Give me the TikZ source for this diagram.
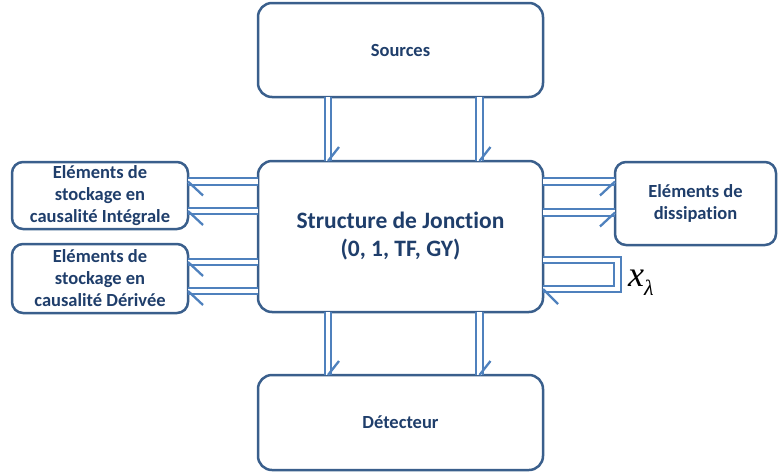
\documentclass[tikz,border=0pt]{standalone}
\usepackage{fontspec}
\setmainfont{Carlito}[Ligatures={NoCommon}]
\newfontfamily\tms{Liberation Serif}
\usetikzlibrary{calc}
\definecolor{boxc}{HTML}{3A5F8C}
\definecolor{arrc}{HTML}{4F81BD}
\definecolor{txtc}{HTML}{1F3E6B}
\begin{document}
\begin{tikzpicture}[x=1pt,y=-1pt,
 box/.style={draw=boxc, line width=2.5pt, rounded corners=14pt, fill=white, inner sep=0pt, outer sep=0pt, align=center, text=txtc, font=\fontsize{18.5}{22}\selectfont\bfseries},
 sbox/.style={box, rounded corners=11pt},
 bond/.style={draw=arrc, line width=2pt, double=white, double distance=4.5pt},
 barb/.style={draw=arrc, line width=2.3pt}]
\useasboundingbox (0,0) rectangle (780,472);
% boxes
\node[box, minimum width=285pt, minimum height=94pt] (src) at (400.5,50) {Sources};
\node[box, minimum width=285pt, minimum height=151pt, font=\fontsize{23.5}{28}\selectfont\bfseries] (cen) at (400.5,236.5) {Structure de Jonction\\(0, 1, TF, GY)};
\node[box, minimum width=285pt, minimum height=95pt] (det) at (400.5,422.5) {Détecteur};
\node[sbox, minimum width=176pt, minimum height=67pt] (l1) at (100,195.5) {Eléments de\\stockage en\\causalité Intégrale};
\node[sbox, minimum width=176pt, minimum height=69pt] (l2) at (100,278.5) {Eléments de\\stockage en\\causalité Dérivée};
\node[sbox, minimum width=161pt, minimum height=83pt] (r) at (695.5,203.5) {Eléments de\\dissipation};
% top bonds
\foreach \x in {328,479.5}{
  \draw[bond] (\x,0 |- src.south) -- (\x,0 |- cen.north);
  \draw[barb] (\x,0 |- cen.north) -- ++(11,-14);
  \draw[bond] (\x,0 |- cen.south) -- (\x,0 |- det.north);
  \draw[barb] (\x,0 |- det.north) -- ++(11,-14);
}
% left bonds
\foreach \y in {181.5,211}{
  \draw[bond] (cen.west |- 0,\y) -- (l1.east |- 0,\y);
  \draw[barb] (l1.east |- 0,\y) -- ++(15,14);
}
\foreach \y in {262,291}{
  \draw[bond] (cen.west |- 0,\y) -- (l2.east |- 0,\y);
  \draw[barb] (l2.east |- 0,\y) -- ++(15,14);
}
% right bonds
\foreach \y in {181.5,212.5}{
  \draw[bond] (cen.east |- 0,\y) -- (r.west |- 0,\y);
  \draw[barb] (r.west |- 0,\y) -- ++(-15,14);
}
% loop
\coordinate (lpa) at (617.5,260);
\coordinate (lpb) at (617.5,289);
\draw[bond] (cen.east |- lpa) -- (lpa) -- (lpb) -- (cen.east |- lpb);
\draw[barb] (cen.east |- lpb) -- ++(15,15);
\node[anchor=base west, inner sep=0pt] (xl) at (628,286) {\tms\itshape\fontsize{36}{36}\selectfont x\raisebox{-9pt}{\fontsize{22}{22}\selectfont λ}};
\end{tikzpicture}
\end{document}
